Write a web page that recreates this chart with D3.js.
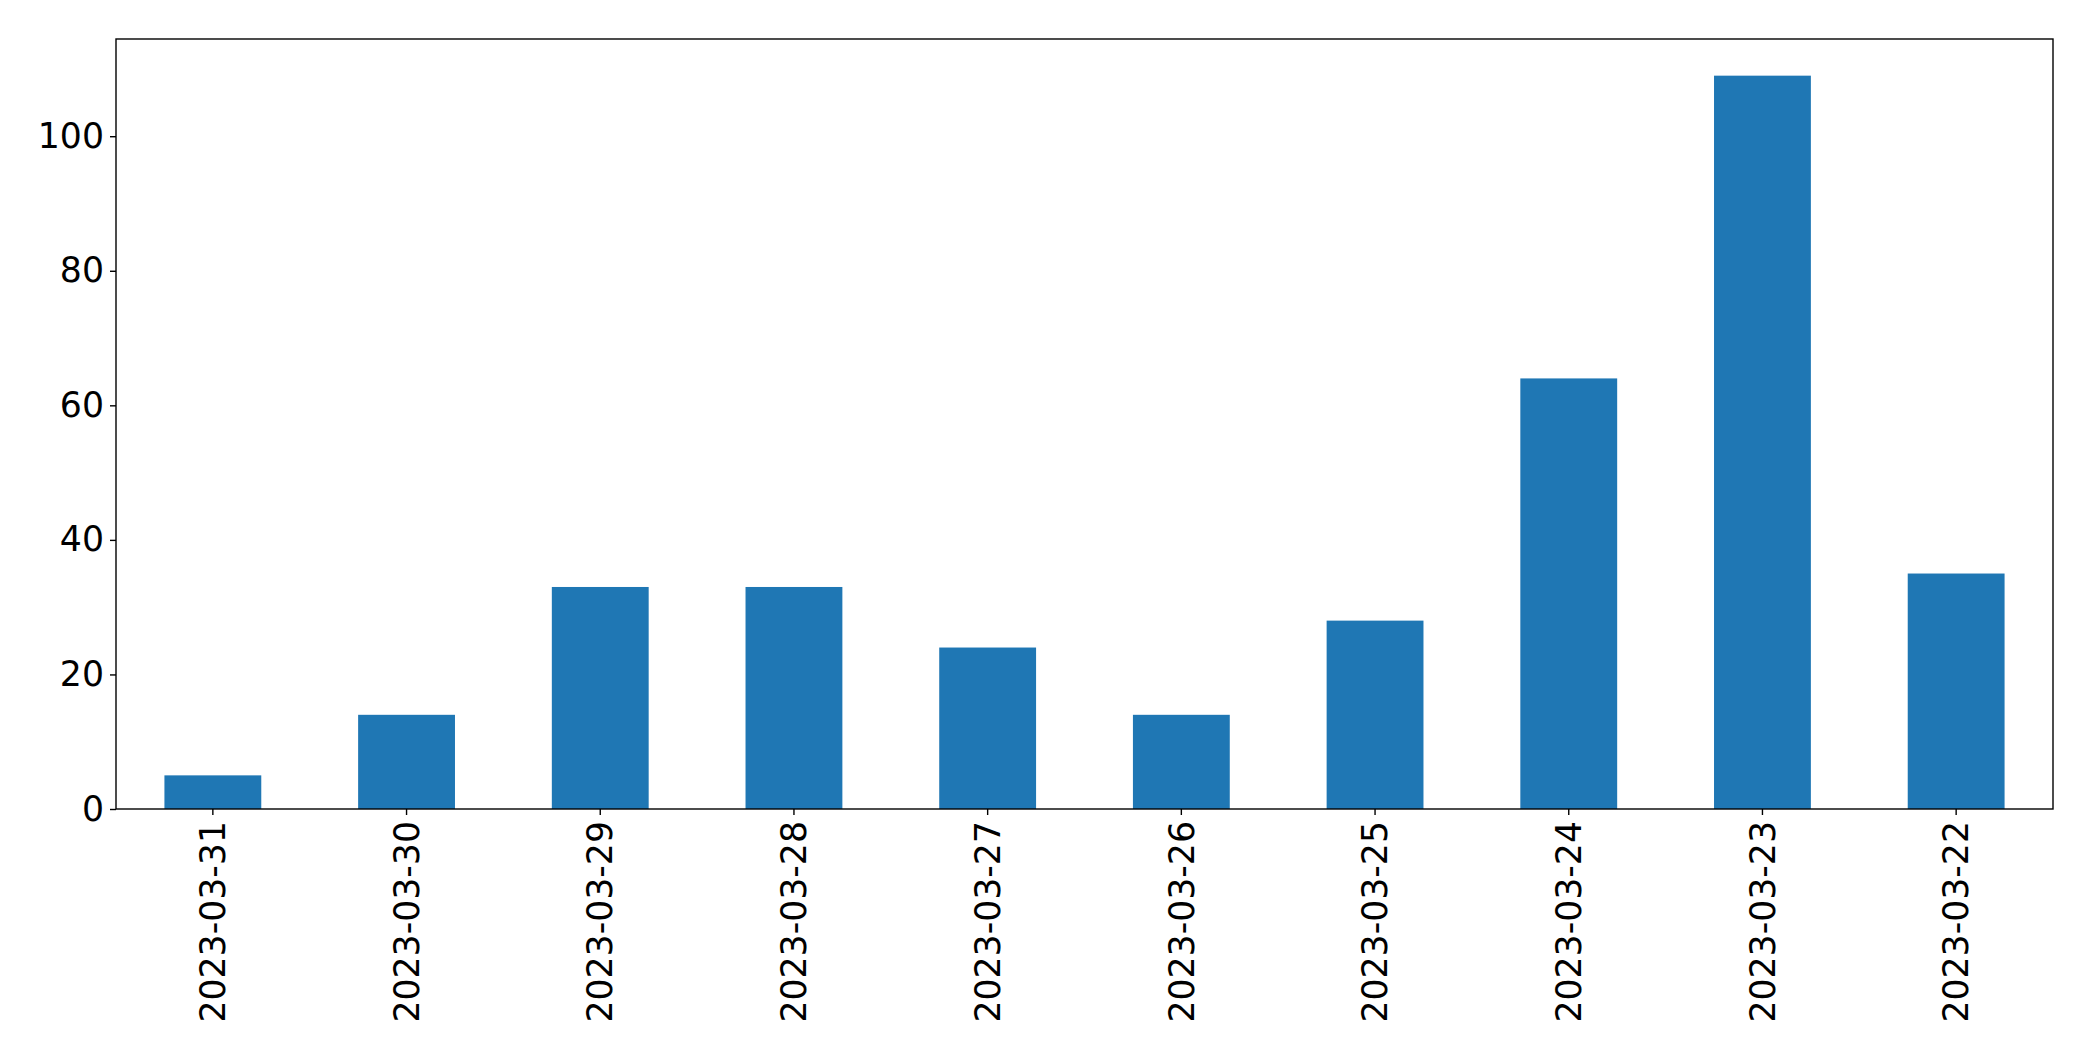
<!DOCTYPE html>
<html>
<head>
<meta charset="utf-8">
<script src="https://cdn.jsdelivr.net/npm/d3@7"></script>
<style>
  html, body { margin: 0; padding: 0; background: #fff; }
  svg { display: block; }
</style>
</head>
<body>
<script>
const categories = ["2023-03-31","2023-03-30","2023-03-29","2023-03-28","2023-03-27","2023-03-26","2023-03-25","2023-03-24","2023-03-23","2023-03-22"];
const values = [5, 14, 33, 33, 24, 14, 28, 64, 109, 35];
const yTicks = [0, 20, 40, 60, 80, 100];

const W = 2093, H = 1061;
const mLeft = 116, mRight = 2053, mTop = 39, mBottom = 809;
const fontSize = 34.7;
const font = "DejaVu Sans, sans-serif";

const svg = d3.select("body").append("svg").attr("width", W).attr("height", H);

const x = d3.scaleBand().domain(categories).range([mLeft, mRight]).paddingInner(0.5).paddingOuter(0.25);
const y = d3.scaleLinear().domain([0, d3.max(values) * 1.05]).range([mBottom, mTop]);

svg.append("g").selectAll("rect").data(values).join("rect")
  .attr("x", (d, i) => x(categories[i]))
  .attr("width", x.bandwidth())
  .attr("y", d => y(d))
  .attr("height", d => y(0) - y(d))
  .attr("fill", "#1f77b4");

const yAxis = svg.append("g").attr("transform", `translate(${mLeft},0)`)
  .call(d3.axisLeft(y).tickValues(yTicks).tickSize(6).tickPadding(6).tickFormat(d3.format("d")));
yAxis.select(".domain").remove();
yAxis.selectAll("line").attr("stroke", "#000").attr("stroke-width", 1.4);
yAxis.selectAll("text").attr("font-family", font).attr("font-size", fontSize).attr("fill", "#000");

const xAxis = svg.append("g").attr("transform", `translate(0,${mBottom})`)
  .call(d3.axisBottom(x).tickSize(6).tickPadding(6));
xAxis.select(".domain").remove();
xAxis.selectAll("line").attr("stroke", "#000").attr("stroke-width", 1.4);
xAxis.selectAll("text")
  .attr("font-family", font).attr("font-size", fontSize).attr("fill", "#000")
  .attr("text-anchor", "end")
  .attr("dy", "0.35em")
  .attr("y", 0)
  .attr("transform", "translate(0,12) rotate(-90)");

svg.append("rect")
  .attr("x", mLeft).attr("y", mTop)
  .attr("width", mRight - mLeft).attr("height", mBottom - mTop)
  .attr("fill", "none").attr("stroke", "#000").attr("stroke-width", 1.4);
</script>
</body>
</html>
